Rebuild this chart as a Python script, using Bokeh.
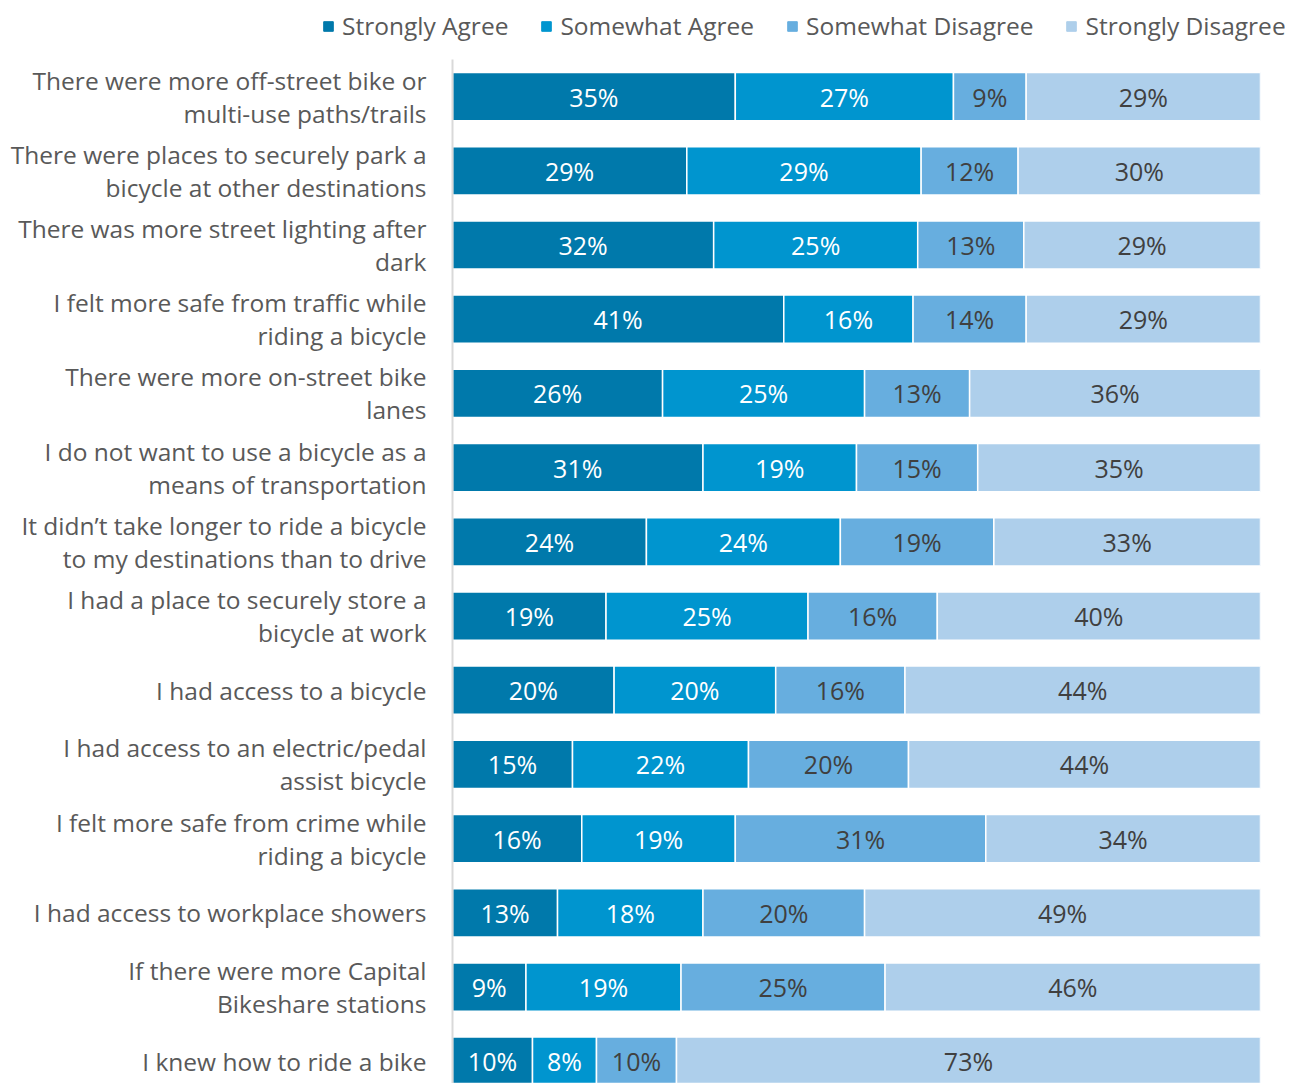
import pandas as pd
from bokeh.plotting import figure
from bokeh.layouts import column
from bokeh.models import ColumnDataSource, Range1d, FixedTicker, Legend, LegendItem
from bokeh.core.properties import value
from bokeh.embed import file_html
from bokeh.resources import INLINE

categories = [
    "There were more off-street bike or\nmulti-use paths/trails",
    "There were places to securely park a\nbicycle at other destinations",
    "There was more street lighting after\ndark",
    "I felt more safe from traffic while\nriding a bicycle",
    "There were more on-street bike\nlanes",
    "I do not want to use a bicycle as a\nmeans of transportation",
    "It didn\u2019t take longer to ride a bicycle\nto my destinations than to drive",
    "I had a place to securely store a\nbicycle at work",
    "I had access to a bicycle",
    "I had access to an electric/pedal\nassist bicycle",
    "I felt more safe from crime while\nriding a bicycle",
    "I had access to workplace showers",
    "If there were more Capital\nBikeshare stations",
    "I knew how to ride a bike",
]
series = ["Strongly Agree", "Somewhat Agree", "Somewhat Disagree", "Strongly Disagree"]
strongly_agree = [35, 29, 32, 41, 26, 31, 24, 19, 20, 15, 16, 13, 9, 10]
somewhat_agree = [27, 29, 25, 16, 25, 19, 24, 25, 20, 22, 19, 18, 19, 8]
somewhat_disagree = [9, 12, 13, 14, 13, 15, 19, 16, 16, 20, 31, 20, 25, 10]
strongly_disagree = [29, 30, 29, 29, 36, 35, 33, 40, 44, 44, 34, 49, 46, 73]

colors = ["#0079AB", "#0095CF", "#67AEDF", "#AECFEB"]
text_colors = ["#FFFFFF", "#FFFFFF", "#404040", "#404040"]
FONT = "Open Sans"

df = pd.DataFrame({
    "y": list(range(len(categories))),
    series[0]: strongly_agree,
    series[1]: somewhat_agree,
    series[2]: somewhat_disagree,
    series[3]: strongly_disagree,
})
total = df[series].sum(axis=1)
keys = []
for i, s in enumerate(series):
    k = "s%d" % i
    df[k] = df[s] / total * 100.0
    keys.append(k)

src = ColumnDataSource(df[["y"] + keys])

# ---- legend strip ----
lg = figure(width=1285, height=52, output_backend="svg", toolbar_location=None,
            x_range=Range1d(0, 100), y_range=Range1d(13.30, -0.5),
            x_axis_location=None, y_axis_location=None,
            min_border_left=0, min_border_right=0, min_border_top=0, min_border_bottom=0)
try:
    lg.frame_align = False
except Exception:
    pass
lg.outline_line_color = None
lg.xgrid.visible = False
lg.ygrid.visible = False
key_renderers = lg.hbar_stack(keys, y="y", height=0.65, color=colors, source=src, visible=False)
legend = Legend(items=[LegendItem(label=s, renderers=[r]) for s, r in zip(series, key_renderers)],
                orientation="horizontal", location=(322, 10))
legend.border_line_color = None
legend.background_fill_alpha = 0
legend.glyph_width = 12
legend.glyph_height = 12
legend.label_standoff = 8
legend.spacing = 32
legend.padding = 0
legend.margin = 0
legend.label_text_font = FONT
legend.label_text_font_size = "24.5px"
legend.label_text_color = "#595959"
lg.add_layout(legend, "center")

# ---- main chart ----
p = figure(width=1285, height=1031, output_backend="svg", toolbar_location=None,
           x_range=Range1d(0, 100), y_range=Range1d(13.30, -0.5),
           min_border_left=452, min_border_right=25, min_border_top=7, min_border_bottom=0)
p.outline_line_color = None
p.xgrid.visible = False
p.ygrid.visible = False
p.xaxis.visible = False

p.hbar_stack(keys, y="y", height=0.65, color=colors, source=src,
             line_color="white", line_width=1.5)

left = pd.Series([0.0] * len(df))
for i, k in enumerate(keys):
    centers = left + df[k] / 2
    lab_src = ColumnDataSource(dict(x=list(centers), y=list(df["y"]),
                                    t=["%d%%" % v for v in df[series[i]]]))
    p.text(x="x", y="y", text="t", source=lab_src, text_align="center",
           text_baseline="middle", text_color=text_colors[i],
           text_font=value(FONT), text_font_size="25px")
    left = left + df[k]

yaxis = p.yaxis[0]
yaxis.ticker = FixedTicker(ticks=list(range(len(categories))))
yaxis.major_label_overrides = {i: c for i, c in enumerate(categories)}
yaxis.major_tick_line_color = None
yaxis.minor_tick_line_color = None
yaxis.axis_line_color = "#D9D9D9"
yaxis.axis_line_width = 2
yaxis.major_label_standoff = 20
yaxis.major_label_text_font = FONT
yaxis.major_label_text_font_size = "24.5px"
yaxis.major_label_text_line_height = 1.0
yaxis.major_label_text_color = "#595959"

open("out.html", "w").write(file_html(column(lg, p, spacing=0), INLINE))
